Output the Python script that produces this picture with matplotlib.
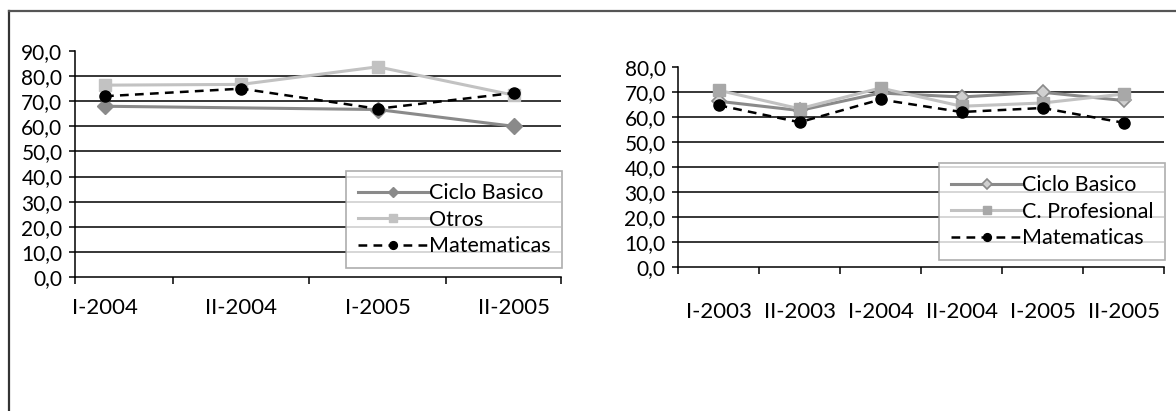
import numpy as np
import matplotlib
matplotlib.use("Agg")
import matplotlib.pyplot as plt
from matplotlib.lines import Line2D

plt.rcParams['font.family'] = ['Lato', 'DejaVu Sans']

# left chart
periods_a = ['I-2004', 'II-2004', 'I-2005', 'II-2005']
ciclo_a = [68.0, np.nan, 66.7, 60.0]
otros_a = [76.4, 76.7, 83.7, 72.4]
mate_a = [72.0, 75.0, 67.0, 73.3]

# right chart
periods_b = ['I-2003', 'II-2003', 'I-2004', 'II-2004', 'I-2005', 'II-2005']
ciclo_b = [66.3, 62.6, 69.6, 68.0, 69.9, 66.6]
prof_b = [70.7, 63.3, 71.6, 64.3, 65.6, 69.2]
mate_b = [64.7, 57.9, 67.0, 62.0, 63.6, 57.7]

DARK = '#8a8a8a'
LIGHT = '#c2c2c2'


def style_axes(ax, ymax, xlim, xpad):
    ax.set_ylim(0, ymax)
    ax.set_xlim(*xlim)
    yt = np.arange(0, ymax + 1, 10)
    ax.set_yticks(yt)
    ax.set_yticklabels([f'{v:.1f}'.replace('.', ',') for v in yt], fontsize=15)
    for v in yt[1:-1]:
        ax.axhline(v, color='black', lw=1.1, zorder=1)
    ax.spines['top'].set_visible(False)
    ax.spines['right'].set_visible(False)
    ax.spines['left'].set_linewidth(1.1)
    ax.spines['bottom'].set_linewidth(1.1)
    ax.tick_params(axis='y', length=4, width=1.1, pad=5)
    ax.tick_params(axis='x', which='major', length=0, pad=xpad, labelsize=16)
    ax.tick_params(axis='x', which='minor', length=5, width=1.1)


def add_legend(ax, y0):
    leg = ax.legend(loc='lower right', bbox_to_anchor=(1.003, y0), fontsize=15.5,
                    handlelength=3.3, handletextpad=0.0, labelspacing=0.3,
                    borderpad=0.55, markerscale=0.7, frameon=True, fancybox=False,
                    borderaxespad=0)
    leg.get_frame().set_edgecolor('#9a9a9a')
    leg.get_frame().set_linewidth(1.2)
    return leg


fig = plt.figure(figsize=(11.76, 4.11), dpi=100)

# left
ax1 = fig.add_axes([75 / 1176, 1 - 277 / 411, 486 / 1176, 226 / 411])
x = np.arange(len(periods_a))
ca = np.array(ciclo_a)
ok = ~np.isnan(ca)
ax1.plot(x[ok], ca[ok], color=DARK, lw=2.2, marker='D', ms=8, label='Ciclo Basico', zorder=3)
ax1.plot(x, otros_a, color=LIGHT, lw=2.2, marker='s', ms=9, label='Otros', zorder=3)
ax1.plot(x, mate_a, color='black', lw=1.8, ls=(0, (3.5, 2.5)), marker='o', ms=8, label='Matematicas', zorder=4)
style_axes(ax1, 90, (-0.22, 3.345), 15)
ax1.set_xticks(x)
ax1.set_xticklabels(periods_a)
ax1.set_xticks([-0.22, 0.5, 1.5, 2.5, 3.345], minor=True)
add_legend(ax1, 0.04)

# right
ax2 = fig.add_axes([678 / 1176, 1 - 267 / 411, 486 / 1176, 200 / 411])
x = np.arange(len(periods_b))
ax2.plot(x, ciclo_b, color=DARK, lw=2.2, marker='D', ms=7, mfc='#d0d0d0', mec=DARK, mew=1.2,
         label='Ciclo Basico', zorder=3)
ax2.plot(x, prof_b, color=LIGHT, lw=2.2, marker='s', ms=8, mfc='#a8a8a8', mec='#a8a8a8',
         label='C. Profesional', zorder=3)
ax2.plot(x, mate_b, color='black', lw=1.8, ls=(0, (3.5, 2.5)), marker='o', ms=8, label='Matematicas', zorder=4)
style_axes(ax2, 80, (-0.5, len(periods_b) - 0.5), 25)
ax2.set_xticks(x)
ax2.set_xticklabels(periods_b)
ax2.set_xticks(np.arange(-0.5, len(periods_b)), minor=True)
add_legend(ax2, 0.035)

# outer frame (only left and top edges visible)
fig.add_artist(Line2D([9 / 1176, 9 / 1176], [0, 1 - 11 / 411], color='#333333', lw=1.6))
fig.add_artist(Line2D([9 / 1176, 1], [1 - 11 / 411, 1 - 11 / 411], color='#555555', lw=1.6))

fig.savefig('out.png', dpi=100)
